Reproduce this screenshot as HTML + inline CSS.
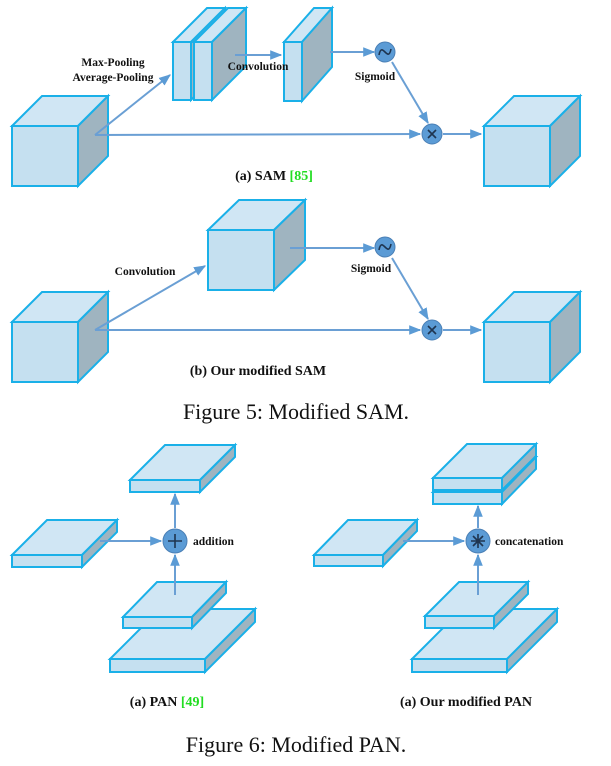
<!DOCTYPE html>
<html><head><meta charset="utf-8"><style>
html,body{margin:0;padding:0;background:#fff;}
svg{display:block;}
text{font-family:"Liberation Serif",serif;}
</style></head><body>
<svg id="s" width="611" height="766" viewBox="0 0 611 766" xmlns="http://www.w3.org/2000/svg">
<defs>
<marker id="ar" viewBox="0 0 10 10" refX="9" refY="5" markerWidth="6" markerHeight="6" orient="auto"><path d="M0,1 L10,5 L0,9 z" fill="#5b9bd5"/></marker>
</defs>
<g id="shapes"></g>
<g stroke="#6a9fd4" stroke-width="2" fill="none" marker-end="url(#ar)">
<path d="M95,135 L170,75"/>
<path d="M95,135 L420,134"/>
<path d="M235,55 L281,55"/>
<path d="M330,52 L374,52"/>
<path d="M392,62 L428,123"/>
<path d="M443,134 L481,134"/>
<path d="M95,330 L205,266"/>
<path d="M95,330 L420,330"/>
<path d="M290,248 L374,248"/>
<path d="M392,258 L428,319"/>
<path d="M443,330 L481,330"/>
<path d="M100,541 L161,541"/>
<path d="M175,595 L175,555"/>
<path d="M175,528 L175,494"/>
<path d="M403,541 L464,541"/>
<path d="M478,595 L478,555"/>
<path d="M478,528 L478,506"/>
</g>
<g fill="#5b9bd5" stroke="#4a7fb5" stroke-width="1">
<circle cx="385" cy="52" r="10"/><circle cx="432" cy="134" r="10"/>
<circle cx="385" cy="247" r="10"/><circle cx="432" cy="330" r="10"/>
<circle cx="175" cy="541" r="12"/><circle cx="478" cy="541" r="12"/>
</g>
<g stroke="#1f3550" stroke-width="1.6" fill="none">
<path d="M379,55 C382,40 388,64 391,49"/>
<path d="M428,130 L436,138 M436,130 L428,138"/>
<path d="M379,250 C382,235 388,259 391,244"/>
<path d="M428,326 L436,334 M436,326 L428,334"/>
<path d="M168,541 L182,541 M175,534 L175,548"/>
<path d="M471,541 L485,541 M478,534 L478,548 M473,536 L483,546 M483,536 L473,546"/>
</g>
<g font-weight="bold" font-size="11.5" fill="#111">
<text x="113" y="66" text-anchor="middle">Max-Pooling</text>
<text x="113" y="81" text-anchor="middle">Average-Pooling</text>
<text x="258" y="70" text-anchor="middle">Convolution</text>
<text x="375" y="80" text-anchor="middle">Sigmoid</text>
<text x="145" y="275" text-anchor="middle">Convolution</text>
<text x="371" y="272" text-anchor="middle">Sigmoid</text>
<text x="193" y="545">addition</text>
<text x="495" y="545">concatenation</text>
</g>
<g font-weight="bold" font-size="14" fill="#111" text-anchor="middle">
<text x="274" y="180">(a) SAM <tspan fill="#22dd22">[85]</tspan></text>
<text x="258" y="375">(b) Our modified SAM</text>
<text x="167" y="706">(a) PAN <tspan fill="#22dd22">[49]</tspan></text>
<text x="466" y="706">(a) Our modified PAN</text>
</g>
<g font-size="22" fill="#111" text-anchor="middle">
<text x="296" y="419">Figure 5: Modified SAM.</text>
<text x="296" y="752">Figure 6: Modified PAN.</text>
</g>
</svg>
<script>
var g=document.getElementById('shapes'),NS='http://www.w3.org/2000/svg';
function poly(pts,fill){var p=document.createElementNS(NS,'polygon');p.setAttribute('points',pts.map(function(a){return a.join(',')}).join(' '));p.setAttribute('fill',fill);p.setAttribute('stroke','#1ab0e8');p.setAttribute('stroke-width','2');p.setAttribute('stroke-linejoin','miter');g.appendChild(p);}
function cub(x,y,w,h,dx,dy){
poly([[x,y],[x+dx,y-dy],[x+w+dx,y-dy],[x+w,y]],'#d0e6f4');
poly([[x+w,y],[x+w+dx,y-dy],[x+w+dx,y+h-dy],[x+w,y+h]],'#9fb4c0');
poly([[x,y],[x+w,y],[x+w,y+h],[x,y+h]],'#c5e0f0');}
cub(12,126,66,60,30,30);
cub(173,42,18,58,34,34);cub(194,42,18,58,34,34);
cub(284,42,18,59,30,34);
cub(484,126,66,60,30,30);
cub(12,322,66,60,30,30);
cub(208,230,66,60,31,30);
cub(484,322,66,60,30,30);
cub(130,480,70,12,35,35);
cub(12,555,70,12,35,35);
cub(110,659,95,13,50,50);
cub(123,617,69,11,34,35);
cub(433,492,69,12,34,35);
cub(433,478,69,12,34,34);
cub(314,555,69,11,34,35);
cub(412,659,95,13,50,50);
cub(425,616,69,12,34,34);
</script>
</body></html>
